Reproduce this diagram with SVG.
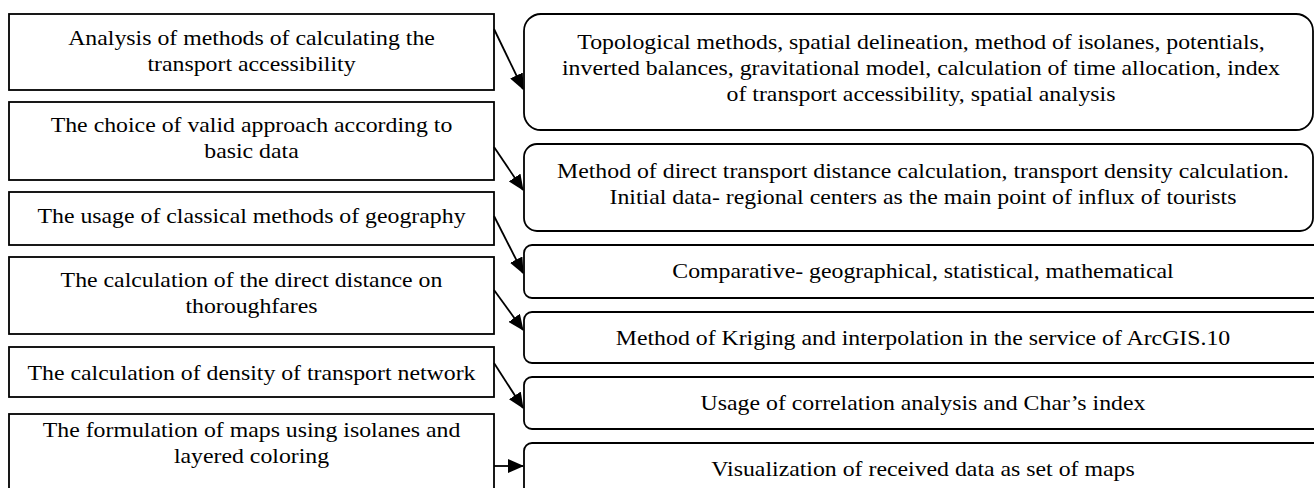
<svg xmlns="http://www.w3.org/2000/svg" width="1314" height="488" viewBox="0 0 1314 488">
  <style>
    .box { fill: #ffffff; stroke: #000000; stroke-width: 1.8; }
    .lbl { font-family: "Liberation Serif", "Times New Roman", serif; font-size: 20.6px; fill: #000000; text-anchor: middle; }
    .edge { fill: none; stroke: #000000; stroke-width: 1.8; marker-end: url(#arrow); }
  </style>
  <defs>
    <marker id="arrow" markerUnits="userSpaceOnUse" markerWidth="16" markerHeight="14" viewBox="0 0 16 14" refX="15" refY="7" orient="auto">
      <path d="M0,0 L16,7 L0,14 Z" fill="#000000"/>
    </marker>
  </defs>
  <rect width="1314" height="488" fill="#ffffff"/>

  <!-- steps (left column); labels use a wide face: scaled horizontally about the box centre -->
  <g id="step1">
    <rect class="box" x="9" y="14" width="485" height="76"/>
    <g transform="translate(251.5 0) scale(1.155 1)">
      <text class="lbl" x="0" y="45">Analysis of methods of calculating the</text>
      <text class="lbl" x="0" y="71">transport accessibility</text>
    </g>
  </g>
  <g id="step2">
    <rect class="box" x="9" y="102" width="485" height="78"/>
    <g transform="translate(251.5 0) scale(1.155 1)">
      <text class="lbl" x="0" y="132">The choice of valid approach according to</text>
      <text class="lbl" x="0" y="158">basic data</text>
    </g>
  </g>
  <g id="step3">
    <rect class="box" x="9" y="192" width="485" height="53"/>
    <g transform="translate(251.5 0) scale(1.155 1)">
      <text class="lbl" x="0" y="223">The usage of classical methods of geography</text>
    </g>
  </g>
  <g id="step4">
    <rect class="box" x="9" y="257" width="485" height="77"/>
    <g transform="translate(251.5 0) scale(1.155 1)">
      <text class="lbl" x="0" y="287">The calculation of the direct distance on</text>
      <text class="lbl" x="0" y="313">thoroughfares</text>
    </g>
  </g>
  <g id="step5">
    <rect class="box" x="9" y="347" width="485" height="50"/>
    <g transform="translate(251.5 0) scale(1.155 1)">
      <text class="lbl" x="0" y="380">The calculation of density of transport network</text>
    </g>
  </g>
  <g id="step6">
    <rect class="box" x="9" y="414" width="485" height="90"/>
    <g transform="translate(251.5 0) scale(1.155 1)">
      <text class="lbl" x="0" y="437">The formulation of maps using isolanes and</text>
      <text class="lbl" x="0" y="463">layered coloring</text>
    </g>
  </g>

  <!-- methods (right column) -->
  <g id="method1">
    <rect class="box" x="524" y="14" width="789" height="116" rx="17" ry="17"/>
    <g transform="translate(921 0) scale(1.155 1)">
      <text class="lbl" x="0" y="49">Topological methods, spatial delineation, method of isolanes, potentials,</text>
      <text class="lbl" x="0" y="75">inverted balances, gravitational model, calculation of time allocation, index</text>
      <text class="lbl" x="0" y="101">of transport accessibility, spatial analysis</text>
    </g>
  </g>
  <g id="method2">
    <rect class="box" x="524" y="144" width="789" height="87" rx="13" ry="13"/>
    <g transform="translate(923 0) scale(1.155 1)">
      <text class="lbl" x="0" y="178">Method of direct transport distance calculation, transport density calculation.</text>
      <text class="lbl" x="0" y="204">Initial data- regional centers as the main point of influx of tourists</text>
    </g>
  </g>
  <g id="method3">
    <rect class="box" x="524" y="245" width="810" height="53" rx="8" ry="8"/>
    <g transform="translate(923 0) scale(1.155 1)">
      <text class="lbl" x="0" y="278">Comparative- geographical, statistical, mathematical</text>
    </g>
  </g>
  <g id="method4">
    <rect class="box" x="524" y="312" width="810" height="51" rx="8" ry="8"/>
    <g transform="translate(923 0) scale(1.155 1)">
      <text class="lbl" x="0" y="345">Method of Kriging and interpolation in the service of ArcGIS.10</text>
    </g>
  </g>
  <g id="method5">
    <rect class="box" x="524" y="377" width="810" height="52" rx="8" ry="8"/>
    <g transform="translate(923 0) scale(1.155 1)">
      <text class="lbl" x="0" y="410">Usage of correlation analysis and Char’s index</text>
    </g>
  </g>
  <g id="method6">
    <rect class="box" x="524" y="443" width="810" height="70" rx="8" ry="8"/>
    <g transform="translate(923 0) scale(1.155 1)">
      <text class="lbl" x="0" y="476">Visualization of received data as set of maps</text>
    </g>
  </g>

  <!-- connectors -->
  <g id="connectors">
    <line class="edge" x1="494" y1="29" x2="523" y2="89"/>
    <line class="edge" x1="494" y1="147" x2="523" y2="190"/>
    <line class="edge" x1="494" y1="216" x2="523" y2="273"/>
    <line class="edge" x1="494" y1="290" x2="523" y2="330"/>
    <line class="edge" x1="494" y1="363" x2="523" y2="408"/>
    <line class="edge" x1="494" y1="466" x2="523" y2="466"/>
  </g>
</svg>
